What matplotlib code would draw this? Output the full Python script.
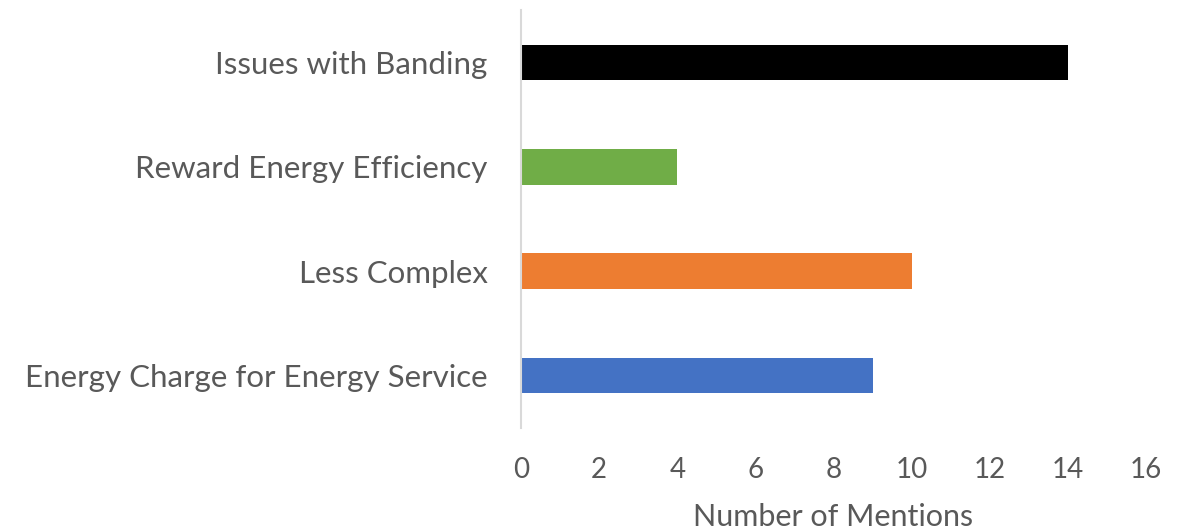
import matplotlib
matplotlib.use('Agg')
import matplotlib.pyplot as plt

categories = ["Energy Charge for Energy Service", "Less Complex",
              "Reward Energy Efficiency", "Issues with Banding"]
mentions = [9, 10, 4, 14]
colors = ["#4472C4", "#ED7D31", "#70AD47", "#000000"]
xticks = [0, 2, 4, 6, 8, 10, 12, 14, 16]

plt.rcParams['font.family'] = ['Lato', 'DejaVu Sans']
text_color = "#595959"

fig = plt.figure(figsize=(11.86, 5.3), dpi=100)
ax = fig.add_axes([0.4393, 0.1925, 0.527, 0.7885])

ax.barh(range(len(categories)), mentions, height=0.34, color=colors)
ax.set_xlim(0, 16)
ax.set_ylim(-0.5, len(categories) - 0.5)
ax.set_xticks(xticks)
ax.set_yticks(range(len(categories)))
ax.set_yticklabels(categories, fontsize=22.5)

for side in ["top", "right", "bottom"]:
    ax.spines[side].set_visible(False)
ax.spines["left"].set_color("#D9D9D9")
ax.spines["left"].set_linewidth(1.5)

ax.tick_params(axis="both", length=0, colors=text_color)
ax.tick_params(axis="x", labelsize=20, pad=21)
ax.tick_params(axis="y", pad=24)
ax.set_xlabel("Number of Mentions", color=text_color, fontsize=22, labelpad=14)

fig.savefig("out.png", dpi=100)
